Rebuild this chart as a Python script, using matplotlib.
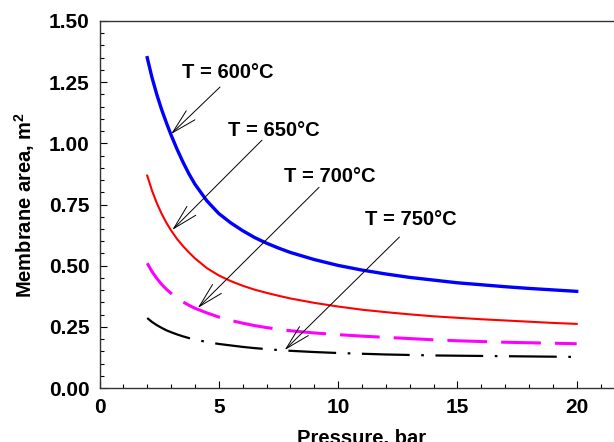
import matplotlib
matplotlib.use("Agg")
import matplotlib.pyplot as plt
from matplotlib.ticker import MultipleLocator, FormatStrFormatter

plt.rcParams['font.family'] = ['Liberation Sans', 'DejaVu Sans']
plt.rcParams['font.weight'] = 'bold'
plt.rcParams['mathtext.fontset'] = 'custom'
plt.rcParams['mathtext.rm'] = 'Liberation Sans:bold'
plt.rcParams['mathtext.bf'] = 'Liberation Sans:bold'

pressure = [2, 2.2, 2.4, 2.6, 2.8, 3, 3.25, 3.5, 3.75, 4, 4.5, 5, 5.5, 6, 6.5, 7, 7.5, 8,
            9, 10, 11, 12, 13, 14, 15, 16, 17, 18, 19, 20]
area_600 = [1.35, 1.269, 1.2, 1.139, 1.085, 1.034, 0.976, 0.923, 0.875, 0.833, 0.765, 0.713,
            0.675, 0.643, 0.615, 0.592, 0.572, 0.554, 0.525, 0.501, 0.482, 0.466, 0.452, 0.441,
            0.43, 0.422, 0.414, 0.407, 0.401, 0.395]
area_650 = [0.868, 0.807, 0.756, 0.713, 0.676, 0.644, 0.609, 0.58, 0.554, 0.53, 0.49, 0.46,
            0.437, 0.418, 0.402, 0.389, 0.377, 0.366, 0.348, 0.333, 0.32, 0.31, 0.301, 0.293,
            0.287, 0.281, 0.276, 0.271, 0.266, 0.262]
area_700 = [0.51, 0.476, 0.448, 0.424, 0.404, 0.387, 0.368, 0.352, 0.338, 0.326, 0.307, 0.29,
            0.276, 0.265, 0.255, 0.247, 0.24, 0.234, 0.225, 0.218, 0.212, 0.207, 0.202, 0.197,
            0.193, 0.19, 0.187, 0.185, 0.183, 0.181]
area_750 = [0.286, 0.27, 0.257, 0.246, 0.236, 0.228, 0.219, 0.211, 0.204, 0.198, 0.188, 0.18,
            0.174, 0.168, 0.163, 0.159, 0.155, 0.152, 0.147, 0.143, 0.14, 0.137, 0.135, 0.133,
            0.132, 0.131, 0.13, 0.129, 0.128, 0.127]

labels = ["T = 600°C", "T = 650°C", "T = 700°C", "T = 750°C"]
arrow_tips = [(3.0, 1.038), (3.05, 0.646), (4.12, 0.327), (7.76, 0.155)]
arrow_starts = [(5.05, 1.23), (6.81, 1.013), (9.2, 0.82), (12.57, 0.617)]
text_pos = [(5.39, 1.29), (7.31, 1.054), (9.64, 0.866), (13.05, 0.69)]

W, H = 614, 442
fig = plt.figure(figsize=(W / 100, H / 100), dpi=100)
left = 99.5 / W
bottom = (H - 388) / H
height = 367 / H
width = 22 * 23.86 / W
ax = fig.add_axes([left, bottom, width, height])

ax.plot(pressure, area_600, color='#0000ff', lw=2.4)
ax.plot(pressure, area_650, color='#ff0000', lw=1.5)
ax.plot(pressure, area_700, color='#ff00ff', lw=2.2, linestyle=(0, (13.0, 4.6)))
ax.plot(pressure, area_750, color='black', lw=1.6, linestyle=(0, (21.5, 5.2, 1.2, 5.2)))

for lab, tip, start, tp in zip(labels, arrow_tips, arrow_starts, text_pos):
    ax.annotate('', xy=tip, xytext=start,
                arrowprops=dict(arrowstyle='->,head_length=1.8,head_width=0.45', color='black', lw=0.7,
                                shrinkA=0, shrinkB=0))
    ax.text(tp[0], tp[1], lab, ha='center', va='center', fontsize=14.5, fontweight='bold')

ax.set_xlim(0, 22)
ax.set_ylim(0, 1.5)
ax.set_xticks([0, 5, 10, 15, 20])
ax.set_xticklabels(['0', '5', '10', '15', '20'])
ax.xaxis.set_minor_locator(MultipleLocator(1))
ax.yaxis.set_major_locator(MultipleLocator(0.25))
ax.yaxis.set_minor_locator(MultipleLocator(0.05))
ax.yaxis.set_major_formatter(FormatStrFormatter('%.2f'))

ax.tick_params(which='major', direction='in', length=5, width=0.8, labelsize=15, pad=7, top=False, right=False)
ax.tick_params(which='minor', direction='in', length=3, width=0.8, top=False, right=False)
for lbl in ax.get_xticklabels() + ax.get_yticklabels():
    lbl.set_fontweight('bold')

for s in ['left', 'bottom', 'top']:
    ax.spines[s].set_linewidth(1.0)
    ax.spines[s].set_color('#333333')
ax.spines['right'].set_visible(False)

ax.set_xlabel('Pressure, bar', fontsize=14.5, fontweight='bold', labelpad=9)
ax.set_ylabel(r'Membrane area, m$^{\mathbf{2}}$', fontsize=14.5, fontweight='bold', labelpad=9)

fig.savefig('out.png', dpi=100)
